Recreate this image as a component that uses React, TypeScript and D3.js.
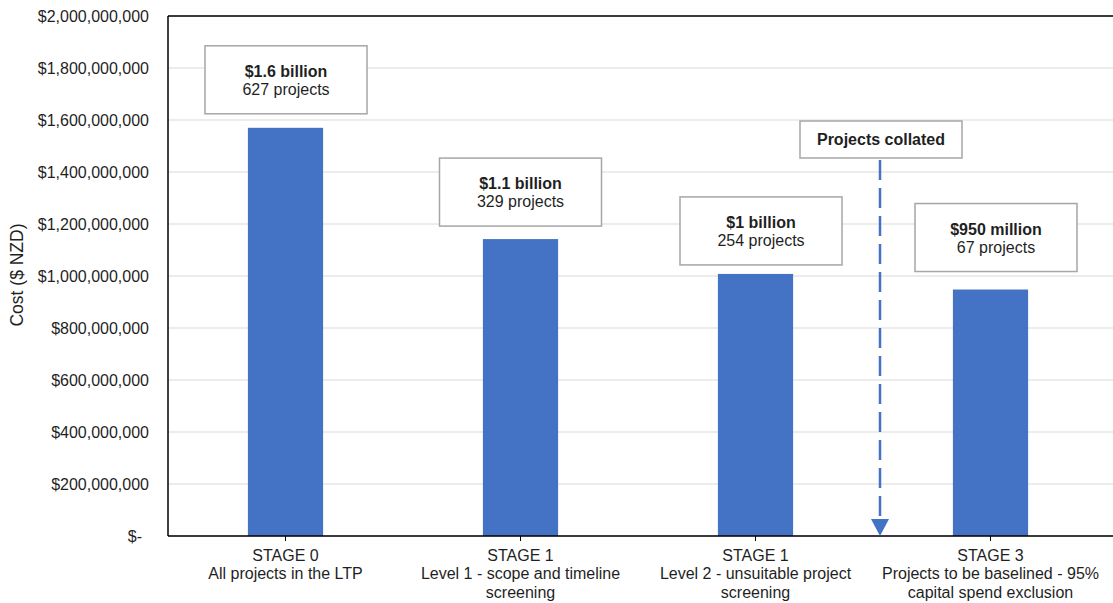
import React from "react";
import * as d3 from "d3";

const stageNames = ["STAGE 0", "STAGE 1", "STAGE 1", "STAGE 3"];
const stageDescriptions = [
  ["All projects in the LTP"],
  ["Level 1 - scope and timeline", "screening"],
  ["Level 2 - unsuitable project", "screening"],
  ["Projects to be baselined - 95%", "capital spend exclusion"],
];
const costs = [1570000000, 1142000000, 1008000000, 948000000];
const labelAmounts = ["$1.6 billion", "$1.1 billion", "$1 billion", "$950 million"];
const labelProjects = ["627 projects", "329 projects", "254 projects", "67 projects"];
const yTicks = [0, 200000000, 400000000, 600000000, 800000000, 1000000000, 1200000000, 1400000000, 1600000000, 1800000000, 2000000000];
const collatedLabel = "Projects collated";
const yTitle = "Cost ($ NZD)";

const W = 1113;
const H = 603;
const M = { left: 168, right: 1108, top: 16, bottom: 536 };
const FONT = "'Liberation Sans', Arial, sans-serif";
const BLUE = "#4472C4";
const TXT = "#1f1f1f";

// layout offsets for annotation boxes (px)
const boxDx = [0.5, 0, 5.5, 5.5];
const boxGap = [14, 13, 9, 18];
const BOX_W = 162;
const BOX_H = 68;

export default function App() {
  const keys = stageNames.map((_, i) => String(i));
  const x = d3.scaleBand<string>().domain(keys).range([M.left, M.right]);
  const y = d3.scaleLinear().domain([0, 2000000000]).range([M.bottom, M.top]);
  const bw = x.bandwidth() * 0.32;
  const cx = (i: number) => (x(String(i)) as number) + x.bandwidth() / 2;
  const fmt = d3.format("$,");

  // collated arrow position: between stage index 2 and 3
  const arrowX = (cx(2) + cx(3)) / 2 + 7;
  const collBoxTop = 121;
  const collBoxH = 37;

  return (
    <svg width={W} height={H} style={{ position: "absolute", left: 0, top: 0, background: "#fff" }} fontFamily={FONT}>
      {/* gridlines */}
      {yTicks.map((t) => (
        <line key={"g" + t} x1={M.left} x2={W} y1={y(t)} y2={y(t)} stroke="#d9d9d9" strokeWidth={1} />
      ))}
      {/* y tick labels */}
      {yTicks.map((t) => (
        <text key={"yl" + t} x={t === 0 ? 142 : 149} y={y(t) + 5.5} textAnchor="end" fontSize={16} fill={TXT}>
          {t === 0 ? "$-" : fmt(t)}
        </text>
      ))}
      {/* bars */}
      {costs.map((v, i) => (
        <rect key={"b" + i} x={cx(i) - bw / 2} y={y(v)} width={bw} height={y(0) - y(v)} fill={BLUE} />
      ))}
      {/* axes */}
      <line x1={M.left} x2={W} y1={M.top} y2={M.top} stroke="#000" strokeWidth={1.5} />
      <line x1={M.left} x2={M.left} y1={M.top} y2={M.bottom} stroke="#000" strokeWidth={1.5} />
      <line x1={M.left} x2={W} y1={M.bottom} y2={M.bottom} stroke="#000" strokeWidth={1.5} />
      {keys.map((k, i) => (
        <line key={"t" + k} x1={cx(i)} x2={cx(i)} y1={M.bottom} y2={M.bottom + 5} stroke="#000" strokeWidth={1} />
      ))}
      {/* x labels */}
      {stageNames.map((s, i) => (
        <text key={"xl" + i} x={cx(i)} textAnchor="middle" fontSize={16} fill={TXT}>
          <tspan x={cx(i)} y={561}>{s}</tspan>
          {stageDescriptions[i].map((d, j) => (
            <tspan key={j} x={cx(i)} y={579 + j * 18.5}>{d}</tspan>
          ))}
        </text>
      ))}
      {/* y title */}
      <text transform={`translate(23,275) rotate(-90)`} textAnchor="middle" fontSize={17.5} fill={TXT}>
        {yTitle}
      </text>
      {/* annotation boxes */}
      {costs.map((v, i) => {
        const bx = cx(i) + boxDx[i];
        const bottom = y(v) - boxGap[i];
        const top = bottom - BOX_H;
        return (
          <g key={"a" + i}>
            <rect x={bx - BOX_W / 2} y={top} width={BOX_W} height={BOX_H} fill="#fff" stroke="#a6a6a6" strokeWidth={1.5} />
            <text x={bx} y={top + 31} textAnchor="middle" fontSize={16} fontWeight="bold" fill={TXT}>
              {labelAmounts[i]}
            </text>
            <text x={bx} y={top + 49} textAnchor="middle" fontSize={16} fill={TXT}>
              {labelProjects[i]}
            </text>
          </g>
        );
      })}
      {/* collated arrow */}
      <line
        x1={arrowX}
        x2={arrowX}
        y1={collBoxTop + collBoxH + 2}
        y2={M.bottom - 16}
        stroke={BLUE}
        strokeWidth={2.5}
        strokeDasharray="20 8"
      />
      <path
        d={`M${arrowX - 9},${M.bottom - 17} L${arrowX + 9},${M.bottom - 17} L${arrowX},${M.bottom} Z`}
        fill={BLUE}
      />
      <rect x={arrowX - 80} y={collBoxTop} width={162} height={collBoxH} fill="#fff" stroke="#a6a6a6" strokeWidth={1.5} />
      <text x={arrowX + 1} y={collBoxTop + 24} textAnchor="middle" fontSize={16} fontWeight="bold" fill={TXT}>
        {collatedLabel}
      </text>
    </svg>
  );
}
